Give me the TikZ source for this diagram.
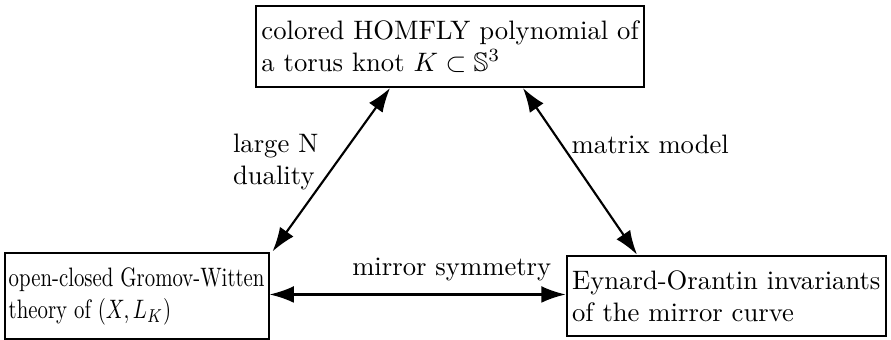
\documentclass[tikz,border=0pt]{standalone}
\usepackage{amssymb}
\usetikzlibrary{arrows.meta}
\tikzset{
    theorybox/.style={draw, line width=0.8pt, align=left, inner xsep=2pt, inner ysep=5.5pt},
    relation/.style={{Latex[length=3.2mm,width=2.2mm]}-{Latex[length=3.2mm,width=2.2mm]}, line width=0.8pt}
}
\begin{document}
\begin{tikzpicture}
            \useasboundingbox (0,0) rectangle (11.74,4.47);
            \node[theorybox] (homfly) at (5.93,3.86)
                {colored HOMFLY polynomial of\\a torus knot $K\subset\mathbb{S}^3$};
            \node[theorybox, xscale=0.78, transform shape] (gw) at (1.80,0.57)
                {open-closed Gromov-Witten\\theory of $(X,L_K)$};
            \node[theorybox] (eo) at (9.57,0.57)
                {Eynard-Orantin invariants\\of the mirror curve};

            \draw[relation] ([xshift=-0.79cm]homfly.south) -- ([xshift=0.04cm]gw.north east)
                node[midway, left, xshift=-0.04cm, yshift=0.1cm, align=left] {large N\\duality};
            \draw[relation] ([xshift=0.96cm]homfly.south) -- ([xshift=0.94cm]eo.north west)
                node[midway, right, xshift=-0.24cm, yshift=0.36cm] {matrix model};
            \draw[relation] ([yshift=0.02cm]gw.east) -- ([yshift=0.02cm]eo.west)
                node[midway, above, xshift=0.45cm, yshift=0.05cm] {mirror symmetry};
        \end{tikzpicture}
\end{document}
